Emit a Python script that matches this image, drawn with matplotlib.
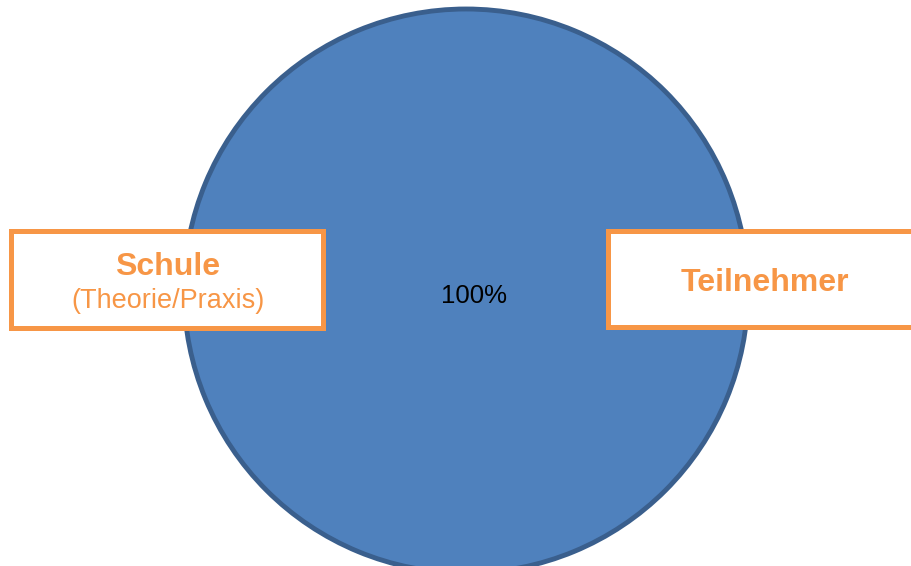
import matplotlib.pyplot as plt
from matplotlib.patches import Rectangle

plt.rcParams['font.family'] = ['Liberation Sans', 'DejaVu Sans']

# Daten
werte = [100]
box_titel = ['Schule', 'Teilnehmer']
box_untertitel = ['(Theorie/Praxis)', '']

blau = '#4F81BD'
blau_rand = '#3A5F8D'
orange = '#F79646'

fig = plt.figure(figsize=(9.12, 5.66), dpi=100)
ax = fig.add_axes([0, 0, 1, 1])

# Kreis (100%)
wedges, texts, autotexts = ax.pie(
    werte, center=(466, 291), radius=282, startangle=180,
    colors=[blau], autopct='%1.0f%%', pctdistance=0.03,
    wedgeprops=dict(edgecolor=blau_rand, linewidth=3.5),
    textprops=dict(fontsize=18.5, color='black'))
autotexts[0].set_y(296)

ax.set_aspect('auto')
ax.set_xlim(0, 912)
ax.set_ylim(566, 0)
ax.axis('off')

# Kästen
boxen = [(11.5, 231, 311.5, 96.5), (608.5, 231, 330, 96)]
for (x, y, w, h) in boxen:
    ax.add_patch(Rectangle((x, y), w, h, facecolor='white', edgecolor=orange,
                           linewidth=3.6, zorder=5))

ax.text(168, 267, box_titel[0], ha='center', va='center', fontsize=23,
        fontweight='bold', color=orange, zorder=6)
ax.text(168, 301, box_untertitel[0], ha='center', va='center', fontsize=19.5,
        color=orange, zorder=6)
ax.text(765, 283, box_titel[1], ha='center', va='center', fontsize=23,
        fontweight='bold', color=orange, zorder=6)

fig.savefig('out.png', dpi=100)
